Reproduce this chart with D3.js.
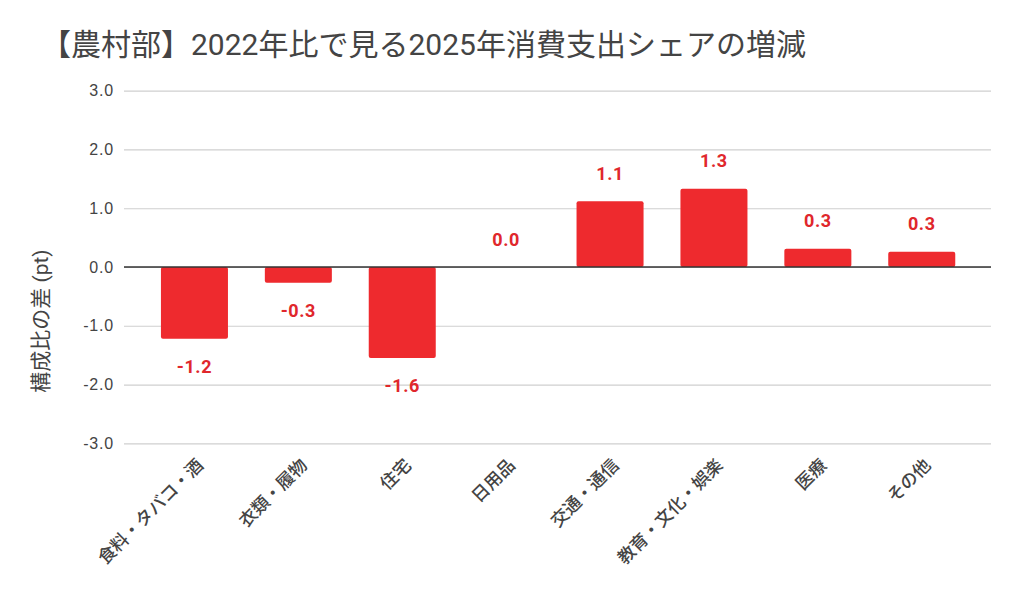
<!DOCTYPE html>
<html>
 <head>
  <meta charset="utf-8">
  <title>農村部 消費支出シェアの増減</title>
  <style>
  body {
   margin: 0;
   background: #fff;
  }
  svg {
   display: block;
   font-family: Roboto, "Noto Sans CJK JP", sans-serif;
  }
  </style>
 </head>

 <body>
  <script src="https://cdnjs.cloudflare.com/ajax/libs/d3/7.8.5/d3.min.js"></script>
  <script>
   // data
   const categories = ["食料・タバコ・酒", "衣類・履物", "住宅", "日用品", "交通・通信", "教育・文化・娯楽", "医療", "その他"];
   const values = [-1.22, -0.27, -1.55, 0, 1.12, 1.33, 0.31, 0.26];
   const yTicks = [-3, -2, -1, 0, 1, 2, 3];
   const title = "【農村部】2022年比で見る2025年消費支出シェアの増減";
   const yTitle = "構成比の差 (pt)";

   const w = 1021;
   const h = 591;
   const barColor = "#ee2a2e";
   const labelColor = "#e0272c";
   const textColor = "#444";

   const svg = d3.select("body")
                 .append("svg")
                 .attr("width", w)
                 .attr("height", h);

   const xScale = d3.scaleBand()
                    .domain(categories)
                    .range([142.5, 973.7])
                    .paddingInner(0.355)
                    .paddingOuter(0.1775);
   const yScale = d3.scaleLinear()
                    .domain([-3, 3])
                    .range([443.3, 90.7]);

   // gridlines + y labels
   const yAxis = d3.axisLeft(yScale)
                   .tickValues(yTicks)
                   .tickSize(-(991 - 124))
                   .tickPadding(10)
                   .tickFormat(d => d.toFixed(1));
   const gy = svg.append("g")
                 .attr("transform", "translate(124,0)")
                 .call(yAxis);
   gy.select(".domain").remove();
   gy.selectAll(".tick line")
     .attr("stroke", "#cfcfcf")
     .attr("stroke-width", 1.2);
   gy.selectAll(".tick text")
     .attr("fill", textColor)
     .style("font-size", "16px")
     .style("letter-spacing", "0.8px");

   // bars
   svg.selectAll("rect.bar")
      .data(values)
      .enter()
      .append("rect")
      .attr("class", "bar")
      .attr("x", (d, i) => xScale(categories[i]))
      .attr("y", d => yScale(Math.max(0, d)))
      .attr("width", xScale.bandwidth())
      .attr("height", d => Math.abs(yScale(d) - yScale(0)))
      .attr("rx", 2)
      .attr("fill", barColor);

   // zero line
   svg.append("line")
      .attr("x1", 124)
      .attr("x2", 991)
      .attr("y1", yScale(0))
      .attr("y2", yScale(0))
      .attr("stroke", "#333")
      .attr("stroke-width", 1.5);

   // value labels
   svg.selectAll("text.val")
      .data(values)
      .enter()
      .append("text")
      .attr("class", "val")
      .attr("x", (d, i) => xScale(categories[i]) + xScale.bandwidth() / 2)
      .attr("y", d => d >= 0 ? yScale(d) - 21.5 : yScale(d) + 21.5 + 12.5)
      .attr("text-anchor", "middle")
      .attr("fill", labelColor)
      .style("font-size", "18px")
      .style("font-weight", "bold")
      .style("letter-spacing", "0.6px")
      .text(d => d.toFixed(1));

   // x labels, rotated
   const xAxis = d3.axisBottom(xScale).tickSize(0).tickPadding(0);
   const gx = svg.append("g")
                 .attr("transform", "translate(0,443.3)")
                 .call(xAxis);
   gx.select(".domain").remove();
   gx.selectAll(".tick text")
     .attr("text-anchor", "end")
     .attr("fill", textColor)
     .attr("x", 0)
     .attr("y", 0)
     .attr("dy", 0)
     .attr("transform", "translate(10,23) rotate(-45)")
     .style("font-size", "17.5px")
     .style("font-family", "'Noto Sans CJK JP', sans-serif")
     .style("font-weight", 500);

   // y title
   svg.append("text")
      .attr("transform", "translate(48,321) rotate(-90)")
      .attr("text-anchor", "middle")
      .attr("fill", textColor)
      .style("font-size", "21px")
      .text(yTitle);

   // chart title
   svg.append("text")
      .attr("x", 41)
      .attr("y", 55)
      .attr("fill", textColor)
      .style("font-size", "30px")
      .text(title);
  </script>
 </body>
</html>
